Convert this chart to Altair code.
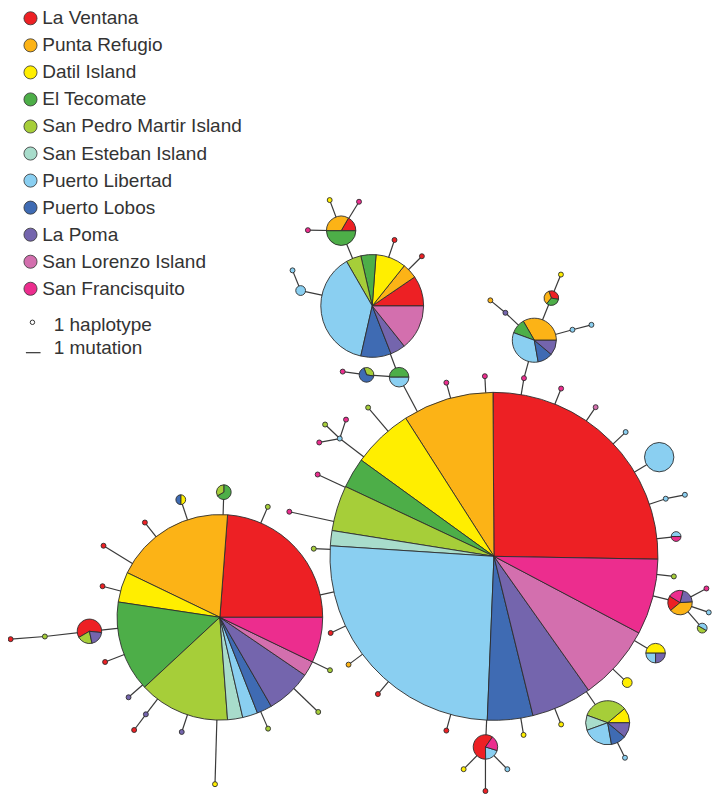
import math
import altair as alt
import pandas as pd

# ---------------- data ----------------
POPULATIONS = ["La Ventana", "Punta Refugio", "Datil Island", "El Tecomate",
               "San Pedro Martir Island", "San Esteban Island", "Puerto Libertad",
               "Puerto Lobos", "La Poma", "San Lorenzo Island", "San Francisquito"]
CODES = ["LV", "PR", "DI", "ET", "SPM", "SE", "PL", "PLO", "LP", "SL", "SF"]
COLORS = ["#ED2024", "#FCB316", "#FFEE00", "#4DAE48", "#A6CE39", "#A8DCCB",
          "#8ACFF1", "#3F6BB3", "#7465AD", "#D36FAE", "#EC2D8E"]

# network layout coordinates of each haplotype node
NODE_X = [497.0, 216.7, 372.5, 538.3, 340.7, 555.7, 400.0, 366.7, 299.3, 291.0,
          342.3, 329.0, 359.0, 306.7, 395.3, 423.3, 565.5, 508.7, 493.3, 577.3,
          596.7, 527.7, 448.3, 487.7, 565.7, 601.0, 631.7, 666.0, 672.7, 692.3,
          683.3, 681.0, 687.3, 714.3, 716.7, 710.0, 662.3, 633.3, 613.3, 631.0,
          565.7, 527.3, 488.3, 466.0, 510.7, 488.3, 448.3, 378.3, 348.3, 330.0,
          312.7, 287.7, 316.7, 339.3, 324.3, 345.7, 318.3, 368.3,
          140.0, 176.7, 220.7, 265.7, 97.7, 96.7, 83.3, 37.7, 2.7, 99.3,
          123.3, 141.0, 129.0, 177.7, 211.7, 266.0, 317.3, 329.3]
NODE_Y = [559.5, 621.7, 304.0, 339.0, 227.3, 296.0, 376.7, 374.3, 288.3, 267.7,
          371.0, 196.0, 197.7, 226.7, 236.7, 253.3, 272.0, 311.0, 298.3, 328.3,
          323.3, 377.7, 382.3, 375.7, 388.3, 407.3, 432.7, 458.3, 500.7, 496.7,
          539.3, 580.0, 606.7, 592.3, 616.7, 632.7, 658.3, 688.3, 729.3, 765.0,
          731.0, 741.7, 754.0, 776.7, 776.7, 799.0, 737.3, 700.0, 670.0, 637.7,
          551.7, 514.0, 476.0, 439.3, 425.0, 420.0, 443.3, 407.7,
          525.0, 501.7, 494.0, 509.0, 548.7, 590.0, 636.0, 641.3, 644.0, 667.3,
          703.3, 720.7, 736.7, 738.7, 792.0, 735.3, 718.3, 675.7]
# starting angle (degrees) of the first slice of each node
NODE_ROT = [-1, 0, 0, 0, 0, -10, 0, -10, 0, 0,
            0, 0, 0, 0, 0, 0, 0, 0, 0, 0,
            0, 0, 0, 0, 0, 0, 0, 0, 0, 0,
            0, 0, 148, 0, 0, 150, 0, 0, 0, 0,
            0, 0, 55, 0, 0, 0, 0, 0, 0, 0,
            0, 0, 0, 0, 0, 0, 0, 0,
            0, -90, 210, 0, 0, 0, -6, 0, 0, 0,
            0, 0, 0, 0, 0, 0, 0, 0]
# haplotype counts per population in each node
NODE_HAPS = [
    {"LV": 17, "PR": 6, "DI": 4, "ET": 2, "SPM": 3, "SE": 1, "PL": 17, "PLO": 3, "LP": 4, "SL": 5, "SF": 5},
    {"LV": 10, "PR": 8, "DI": 2, "ET": 6, "SPM": 6, "SE": 1, "PL": 1, "PLO": 1, "LP": 3, "SL": 1, "SF": 3},
    {"LV": 2, "PR": 1, "DI": 2, "ET": 1, "SPM": 1, "PL": 8, "PLO": 2, "LP": 1, "SL": 3},
    {"PR": 3, "ET": 1, "PL": 3, "PLO": 1, "LP": 1},
    {"LV": 1, "PR": 2, "ET": 3},
    {"LV": 1, "PR": 1, "ET": 1},
    {"ET": 2, "PL": 2},
    {"SPM": 1, "PLO": 2},
    {"PL": 2},
    {"PL": 1},
    {"SF": 1}, {"DI": 1}, {"SF": 1}, {"SF": 1}, {"LV": 1}, {"LV": 1}, {"DI": 1},
    {"LP": 1}, {"PR": 1}, {"PL": 1}, {"PL": 1}, {"SF": 1},
    {"SF": 1}, {"SF": 1}, {"SF": 1}, {"SL": 1}, {"PL": 1},
    {"PL": 6},
    {"PL": 1}, {"PL": 1},
    {"PL": 1, "SF": 1},
    {"SPM": 1},
    {"LV": 1, "PR": 2, "LP": 1, "SF": 1},
    {"SF": 1}, {"PL": 1},
    {"SPM": 1, "PL": 1},
    {"DI": 2, "PL": 1, "LP": 1},
    {"DI": 2},
    {"DI": 1, "SPM": 3, "SE": 1, "PL": 2, "PLO": 1, "LP": 1},
    {"PL": 1},
    {"DI": 1}, {"DI": 1},
    {"LV": 3, "PL": 1, "SF": 1},
    {"DI": 1}, {"PL": 1}, {"LV": 1},
    {"LV": 1}, {"LV": 1}, {"PR": 1}, {"LV": 1},
    {"SPM": 1}, {"SF": 1}, {"SF": 1}, {"PL": 1}, {"SPM": 1}, {"SF": 1}, {"SF": 1}, {"SPM": 1},
    {"LV": 1},
    {"DI": 1, "PLO": 1},
    {"ET": 2, "SPM": 1},
    {"SPM": 1}, {"LV": 1}, {"LV": 1},
    {"LV": 3, "SPM": 1, "LP": 1},
    {"SPM": 1}, {"LV": 1}, {"LV": 1},
    {"LP": 1}, {"LP": 1}, {"LV": 1}, {"LP": 1}, {"DI": 1},
    {"SPM": 1}, {"SPM": 1}, {"SPM": 1},
]
# network edges (node index pairs)
EDGE_A = [0, 0, 6, 6, 7, 2, 4, 4, 4, 2, 2, 2, 8,
          3, 5, 3, 17, 3, 19, 3, 21,
          0, 0, 0, 0, 0, 0, 0, 28, 0, 0, 0, 32, 32, 32, 0, 0, 0, 38, 0, 0, 0,
          42, 42, 42, 0, 0, 0, 0, 0, 0, 0, 0, 53, 53, 53, 0,
          1, 1, 1, 1, 1, 1, 1, 64, 65, 1, 1, 1, 69, 1, 1, 1, 1, 1]
EDGE_B = [1, 6, 2, 7, 10, 4, 11, 12, 13, 14, 15, 8, 9,
          5, 16, 17, 18, 19, 20, 21, 0,
          22, 23, 24, 25, 26, 27, 28, 29, 30, 31, 32, 33, 34, 35, 36, 37, 38, 39, 40, 41, 42,
          43, 44, 45, 46, 47, 48, 49, 50, 51, 52, 53, 54, 55, 56, 57,
          58, 59, 60, 61, 62, 63, 64, 65, 66, 67, 68, 69, 70, 71, 72, 73, 74, 75]

LEGEND_LABELS = POPULATIONS
SCALE_LABELS = ["1 haplotype", "1 mutation"]

# ---------------- tables ----------------
code_to_pop = dict(zip(CODES, POPULATIONS))
arc_rows = []
for i, (x, y, rot, haps) in enumerate(zip(NODE_X, NODE_Y, NODE_ROT, NODE_HAPS)):
    n = sum(haps.values())
    c = 0
    for code in CODES:
        k = haps.get(code, 0)
        if k == 0:
            continue
        a1 = rot + 360.0 * c / n
        a2 = rot + 360.0 * (c + k) / n
        s, e = 90.0 - a2, 90.0 - a1
        while s < 0:
            s += 360.0
            e += 360.0
        arc_rows.append({"node": i, "x": x, "y": y, "n": n, "pop": code_to_pop[code],
                         "t1": math.radians(s), "t2": math.radians(e)})
        c += k
arcs = pd.DataFrame(arc_rows)

edges = pd.DataFrame({
    "x": [NODE_X[a] for a in EDGE_A], "y": [NODE_Y[a] for a in EDGE_A],
    "x2": [NODE_X[b] for b in EDGE_B], "y2": [NODE_Y[b] for b in EDGE_B],
})

legend = pd.DataFrame({"pop": LEGEND_LABELS,
                       "cx": [23.0] * len(LEGEND_LABELS),
                       "tx": [35.0] * len(LEGEND_LABELS),
                       "y": [10.5 + 27.6 * i for i in range(len(LEGEND_LABELS))]})
scale_text = pd.DataFrame({"label": SCALE_LABELS, "tx": [46.7, 46.7], "y": [323.0, 347.0]})

# ---------------- chart ----------------
W, H = 704, 786
XS = alt.Scale(domain=[0, 720], nice=False, zero=False)
YS = alt.Scale(domain=[0, 802], nice=False, zero=False, reverse=True)
CS = alt.Scale(domain=POPULATIONS, range=COLORS)
RS = alt.Scale(type="linear", domain=[0, 67], range=[0, 67 * 2.5 * 0.979])

def X(f):
    return alt.X(f, type="quantitative", scale=XS, axis=None)

def Y(f):
    return alt.Y(f, type="quantitative", scale=YS, axis=None)

edge_layer = alt.Chart(edges).mark_rule(color="#3a3a3a", strokeWidth=1.2).encode(
    x=X("x"), y=Y("y"), x2="x2", y2="y2")

arc_layer = alt.Chart(arcs).mark_arc(stroke="#2e2e2e", strokeWidth=0.9).encode(
    x=X("x"), y=Y("y"),
    theta=alt.Theta("t1:Q", scale=None, stack=None),
    theta2=alt.Theta2("t2:Q"),
    radius=alt.Radius("n:Q", scale=RS),
    color=alt.Color("pop:N", scale=CS, legend=None),
)

leg_circles = alt.Chart(legend).mark_circle(size=172, opacity=1, stroke="#333333",
                                            strokeWidth=0.8).encode(
    x=X("cx"), y=Y("y"), color=alt.Color("pop:N", scale=CS, legend=None))

leg_text = alt.Chart(legend).mark_text(align="left", baseline="middle",
                                       font="Liberation Sans", fontSize=19,
                                       color="#333333").encode(
    x=X("tx"), y=Y("y"), text="pop:N")

hap_circle = alt.Chart(pd.DataFrame({"x": [25.0], "y": [320.7]})).mark_circle(
    size=20, opacity=1, fill="white", stroke="#333333", strokeWidth=1).encode(
    x=X("x"), y=Y("y"))

mut_line = alt.Chart(pd.DataFrame({"x": [18.3], "x2": [33.3], "y": [351.7]})).mark_rule(
    color="#333333", strokeWidth=1.2).encode(x=X("x"), x2="x2", y=Y("y"))

scale_txt = alt.Chart(scale_text).mark_text(align="left", baseline="middle",
                                            font="Liberation Sans", fontSize=19,
                                            color="#333333").encode(
    x=X("tx"), y=Y("y"), text="label:N")

chart = alt.layer(edge_layer, arc_layer, leg_circles, leg_text, hap_circle,
                  mut_line, scale_txt).properties(
    width=W, height=H, padding=0,
    autosize=alt.AutoSizeParams(type="none"),
).configure_view(stroke=None)

chart.save("out.html", embed_options={"renderer": "svg", "actions": False})
